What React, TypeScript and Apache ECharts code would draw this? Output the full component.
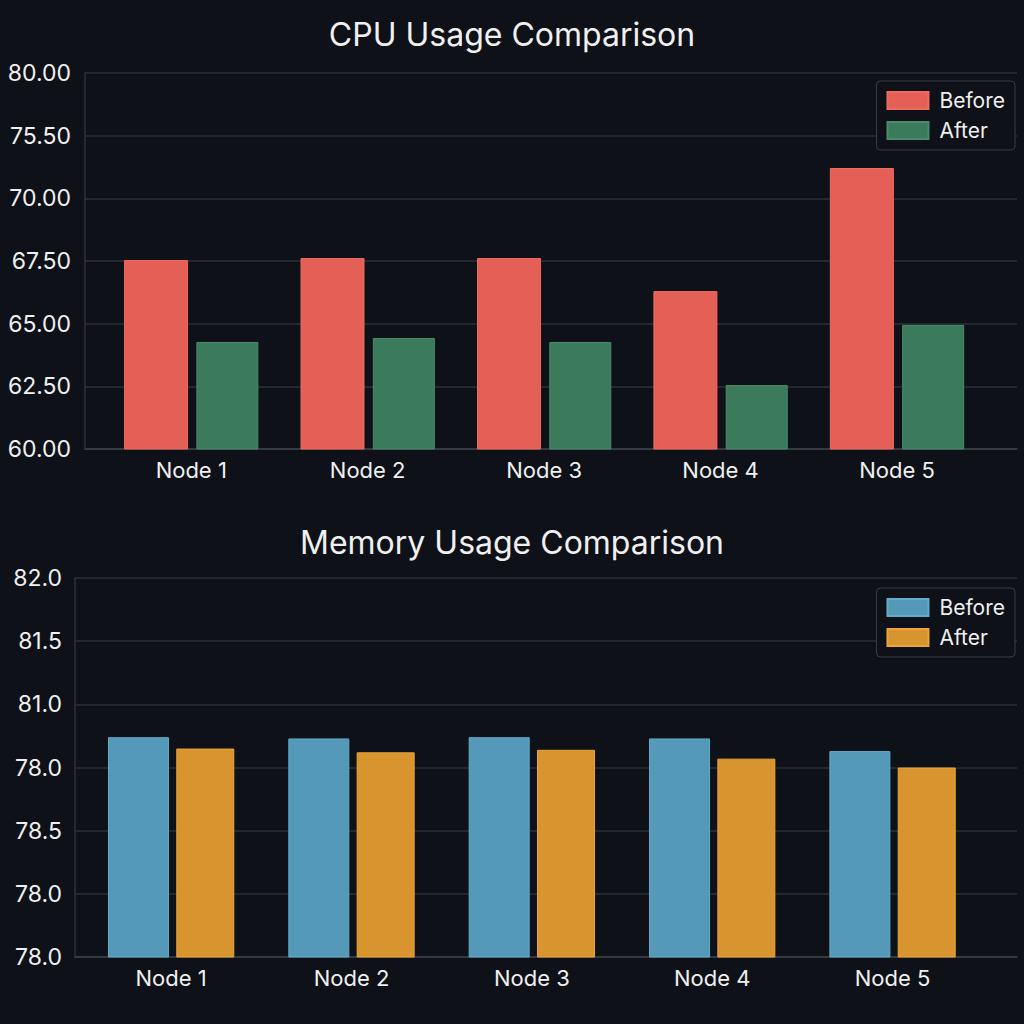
import React, { useEffect, useRef } from "react";
import * as echarts from "echarts";

const nodes = ["Node 1", "Node 2", "Node 3", "Node 4", "Node 5"];
const nodePos = [0, 1, 2, 3, 4];

const cpuBefore = [67.54, 67.62, 67.62, 66.3, 71.21];
const cpuAfter = [64.27, 64.43, 64.27, 62.55, 64.95];
const cpuTickLabels = ["60.00", "62.50", "65.00", "67.50", "70.00", "75.50", "80.00"];

const memBefore = [80.74, 80.73, 80.74, 80.73, 80.63];
const memAfter = [80.65, 80.62, 80.64, 80.57, 80.5];
const memTickLabels = ["78.0", "78.0", "78.5", "78.0", "81.0", "81.5", "82.0"];

const BG = "#0e1117";
const FONT = "Inter, 'Noto Sans', sans-serif";

export default function App() {
  const ref = useRef<HTMLDivElement>(null);
  useEffect(() => {
    document.body.style.margin = "0";
    document.body.style.background = BG;
    const chart = echarts.init(ref.current!, null, { renderer: "svg" });
    const pair = (vals: number[]) => vals.map((v, i) => [nodePos[i], v]);
    const legendCommon = {
      orient: "vertical",
      right: 9,
      icon: "rect",
      itemWidth: 41,
      itemHeight: 17,
      itemGap: 9,
      padding: [9, 10, 9, 10],
      borderColor: "#3a3f47",
      borderWidth: 1,
      borderRadius: 4,
      backgroundColor: BG,
      textStyle: { color: "#f0f0f0", fontSize: 21, fontFamily: FONT, padding: [0, 0, 0, 6] },
    };
    const xAxisCommon = (min: number, max: number, gridIndex: number) => ({
      type: "value",
      gridIndex,
      min,
      max,
      axisLine: { show: true, onZero: false, lineStyle: { color: "#3a4048", width: 1.5 } },
      axisTick: { show: false },
      splitLine: { show: false },
      axisLabel: {
        customValues: nodePos,
        formatter: (v: number) => nodes[Math.round(v)] ?? "",
        color: "#f0f0f0",
        fontSize: 22,
        fontFamily: FONT,
        margin: 10,
      },
    });
    const yAxisCommon = (min: number, max: number, interval: number, labels: string[], gridIndex: number, margin: number) => ({
      type: "value",
      gridIndex,
      min,
      max,
      interval,
      axisLine: { show: true, onZero: false, lineStyle: { color: "#2c323a", width: 1.5 } },
      axisTick: { show: false },
      splitLine: { show: true, lineStyle: { color: "#2a3038", width: 1.5 } },
      axisLabel: {
        formatter: (v: number) => labels[Math.round((v - min) / interval)] ?? "",
        color: "#f0f0f0",
        fontSize: 23,
        fontFamily: FONT,
        margin,
      },
    });
    chart.setOption({
      animation: false,
      backgroundColor: BG,
      title: [
        {
          text: "CPU Usage Comparison",
          left: "center",
          top: 13,
          textStyle: { color: "#f0f0f0", fontSize: 32, fontWeight: "normal", fontFamily: FONT },
        },
        {
          text: "Memory Usage Comparison",
          left: "center",
          top: 521,
          textStyle: { color: "#f0f0f0", fontSize: 32, fontWeight: "normal", fontFamily: FONT },
        },
      ],
      legend: [
        { ...legendCommon, top: 81, data: ["CPU Before", "CPU After"], formatter: (n: string) => n.replace("CPU ", "") },
        { ...legendCommon, top: 588, data: ["Mem Before", "Mem After"], formatter: (n: string) => n.replace("Mem ", "") },
      ],
      grid: [
        { left: 85, right: 7, top: 73, height: 376 },
        { left: 75, right: 7, top: 578, height: 379 },
      ],
      xAxis: [xAxisCommon(-0.602, 4.68, 0), xAxisCommon(-0.533, 4.69, 1)],
      yAxis: [
        yAxisCommon(60, 75, 2.5, cpuTickLabels, 0, 14),
        yAxisCommon(79, 82, 0.5, memTickLabels, 1, 13),
      ],
      series: [
        {
          name: "CPU Before",
          type: "bar",
          xAxisIndex: 0,
          yAxisIndex: 0,
          data: pair(cpuBefore),
          barWidth: 64,
          barGap: "13%",
          itemStyle: { color: "#e45f56", borderColor: "#f06a60", borderWidth: 1 },
        },
        {
          name: "CPU After",
          type: "bar",
          xAxisIndex: 0,
          yAxisIndex: 0,
          data: pair(cpuAfter),
          barWidth: 62,
          barGap: "13%",
          itemStyle: { color: "#3c7a5c", borderColor: "#4a8c6c", borderWidth: 1 },
        },
        {
          name: "Mem Before",
          type: "bar",
          xAxisIndex: 1,
          yAxisIndex: 1,
          data: pair(memBefore),
          barWidth: 61,
          barGap: "12%",
          itemStyle: { color: "#549ab8", borderColor: "#63acc9", borderWidth: 1 },
        },
        {
          name: "Mem After",
          type: "bar",
          xAxisIndex: 1,
          yAxisIndex: 1,
          data: pair(memAfter),
          barWidth: 58,
          barGap: "12%",
          itemStyle: { color: "#d8952f", borderColor: "#eaa63a", borderWidth: 1 },
        },
      ],
    });
    return () => chart.dispose();
  }, []);
  return <div ref={ref} style={{ width: 1024, height: 1024 }} />;
}
